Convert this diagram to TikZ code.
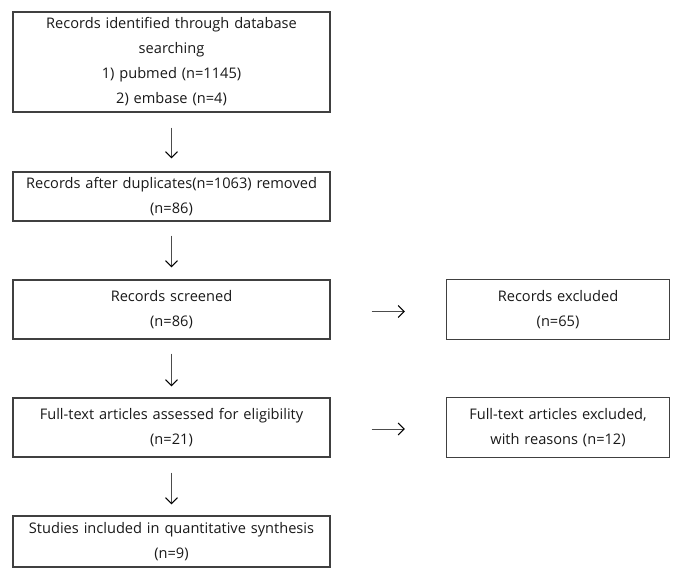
\documentclass[tikz,border=0pt]{standalone}
\usepackage{fontspec}
\setmainfont{Open Sans}
\usetikzlibrary{shapes.geometric, arrows.meta}
\tikzstyle{stage} = [rectangle, minimum width=317pt, text width=312pt, align=center, inner sep=0, draw=black!75, line width=1.1pt, text=black!90, font=\fontsize{14.6}{25}\selectfont]
\tikzstyle{excl} = [stage, minimum width=223pt, text width=220pt, minimum height=60pt]
\tikzstyle{arrow} = [line width=1pt,->,>={Straight Barb[length=6pt,width=12pt,line width=1.1pt,color=black]},black!70]

\begin{document}
\begin{tikzpicture}[x=1pt,y=-1pt]
\useasboundingbox[fill=white] (0,0) rectangle (682,580);

\node[stage,minimum height=100pt] (ident) at (171.5,62) {Records identified through database\\ searching\\ 1) pubmed (n=1145)\\ 2) embase (n=4)};
\node[stage,minimum height=49pt] (dupl) at (171.5,196.5) {Records after duplicates(n=1063) removed\\ (n=86)};
\node[stage,minimum height=59pt] (screen) at (171.5,309.5) {Records screened\\ (n=86)};
\node[stage,minimum height=59pt] (full) at (171.5,427.5) {Full-text articles assessed for eligibility\\ (n=21)};
\node[stage,minimum height=51pt] (incl) at (171.5,541.5) {Studies included in quantitative synthesis\\ (n=9)};

\node[excl] (screenx) at (558,309.5) {Records excluded\\ (n=65)};
\node[excl] (fullx) at (558,427.5) {Full-text articles excluded,\\ with reasons (n=12)};

\draw[arrow,shorten <=15pt,shorten >=13pt] (ident)--(dupl);
\draw[arrow,shorten <=14pt,shorten >=12pt] (dupl)--(screen);
\draw[arrow,shorten <=14pt,shorten >=11pt] (screen)--(full);
\draw[arrow,shorten <=15pt,shorten >=11pt] (full)--(incl);
\draw[arrow,shorten <=41pt,shorten >=41pt] ([yshift=-2pt]screen.east)--([yshift=-2pt]screenx.west);
\draw[arrow,shorten <=41pt,shorten >=41pt] ([yshift=-1.5pt]full.east)--([yshift=-1.5pt]fullx.west);
\end{tikzpicture}
\end{document}
